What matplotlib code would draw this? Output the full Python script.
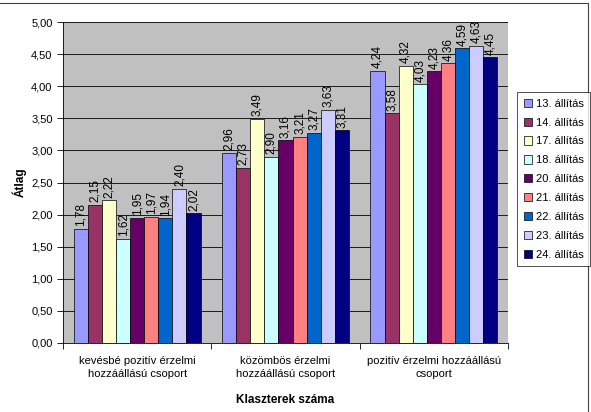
import matplotlib
matplotlib.use("Agg")
import matplotlib.pyplot as plt
import numpy as np
from matplotlib.patches import Rectangle

plt.rcParams['font.family'] = ['Liberation Sans', 'DejaVu Sans']

categories = ["kevésbé pozitív érzelmi\nhozzáállású csoport",
              "közömbös érzelmi\nhozzáállású csoport",
              "pozitív érzelmi hozzáállású\ncsoport"]
series = ["13. állítás", "14. állítás", "17. állítás", "18. állítás", "20. állítás",
          "21. állítás", "22. állítás", "23. állítás", "24. állítás"]
values = [
    [1.78, 2.96, 4.24],
    [2.15, 2.73, 3.58],
    [2.22, 3.49, 4.32],
    [1.62, 2.90, 4.03],
    [1.95, 3.16, 4.23],
    [1.97, 3.21, 4.36],
    [1.94, 3.27, 4.59],
    [2.40, 3.63, 4.63],
    [2.02, 3.31, 4.45],
]
colors = ["#9999FF", "#993366", "#FFFFCC", "#CCFFFF", "#660066",
          "#FF8080", "#0066CC", "#CCCCFF", "#000080"]
yticks = np.arange(0, 5.01, 0.5)

fig = plt.figure(figsize=(5.91, 4.12), dpi=100)
fig.patches.append(Rectangle((-0.01, -0.01), 588 / 591 + 0.01, 1 - 3 / 412 + 0.01,
                             transform=fig.transFigure, fill=False,
                             edgecolor='#404040', linewidth=0.8))
ax = fig.add_axes([63 / 591, 1 - 343 / 412, 445 / 591, 321 / 412])
ax.set_facecolor('#C0C0C0')

n = len(series)
bw = 0.095
x = np.arange(len(categories))
for i, (s, v, c) in enumerate(zip(series, values, colors)):
    pos = x + (i - (n - 1) / 2) * bw
    bars = ax.bar(pos, v, width=bw, color=c, edgecolor='black', linewidth=0.5,
                  label=s, zorder=3)
    for b, val in zip(bars, v):
        ax.text(b.get_x() + b.get_width() / 2, val + 0.04, f"{val:.2f}".replace('.', ','),
                rotation=90, ha='center', va='bottom', fontsize=8.5, zorder=4)

ax.set_xlim(-0.5, 2.5)
ax.set_ylim(0, 5)
ax.set_yticks(yticks)
ax.set_yticklabels([f"{t:.2f}".replace('.', ',') for t in yticks], fontsize=8)
ax.set_xticks([-0.5, 0.5, 1.5, 2.5])
ax.set_xticklabels([])
ax.tick_params(axis='x', length=4, direction='out', width=0.6)
ax.tick_params(axis='y', length=4, direction='out', width=0.6)
for cx, lab in zip(x, categories):
    ax.text(cx, -0.2, lab, ha='center', va='top', fontsize=8, linespacing=1.45,
            transform=ax.transData)
ax.grid(axis='y', color='black', linewidth=0.6, zorder=1)
ax.set_axisbelow(True)
for sp in ['top', 'right']:
    ax.spines[sp].set_visible(False)
ax.spines['left'].set_linewidth(0.6)
ax.spines['bottom'].set_linewidth(0.6)
ax.set_ylabel("Átlag", fontsize=8.5, fontweight='bold', labelpad=3)
ax.text(1.0, -0.8, "Klaszterek száma", ha='center', va='top', fontsize=8.5,
        fontweight='bold', transform=ax.transData)

leg = fig.legend(loc='upper left', bbox_to_anchor=(517 / 591, 1 - 92 / 412), fontsize=8,
                 frameon=True, fancybox=False, edgecolor='black', handlelength=0.75,
                 handleheight=0.75, handletextpad=0.35, labelspacing=0.8, borderpad=0.6,
                 borderaxespad=0)
leg.get_frame().set_linewidth(0.6)

fig.savefig("out.png", dpi=100)
